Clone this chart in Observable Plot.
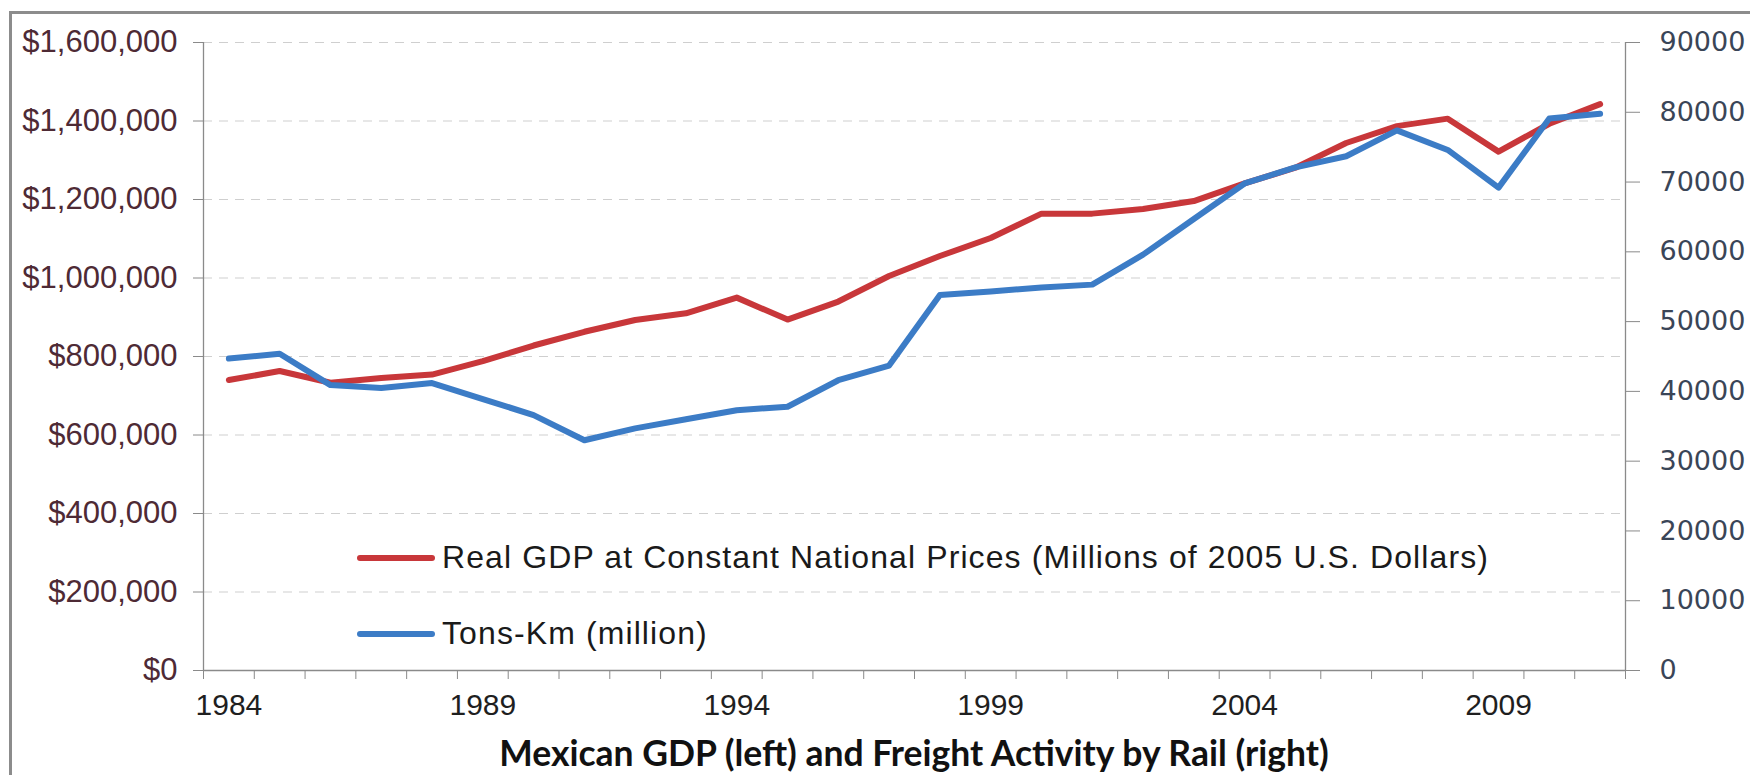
<!DOCTYPE html>
<html>
<head>
<meta charset="utf-8">
<script src="https://cdn.jsdelivr.net/npm/d3@7"></script>
<script src="https://cdn.jsdelivr.net/npm/@observablehq/plot@0.6"></script>
<style>
html, body { margin: 0; padding: 0; background: #fff; width: 1750px; height: 775px; overflow: hidden; }
#frame { position: absolute; left: 9px; top: 11px; width: 1800px; height: 820px; border: 3px solid #8c8c8c; box-sizing: border-box; }
#chart { position: absolute; left: 0; top: 0; }
#title { position: absolute; left: 203px; width: 1422px; top: 731px; text-align: center; font: bold 35.5px Lato, "Open Sans", sans-serif; color: #111; white-space: nowrap; }
.leg { position: absolute; left: 357px; font: 32px "Liberation Sans", Arial, sans-serif; letter-spacing: 1.1px; color: #1a1a1a; white-space: nowrap; display: flex; align-items: center; }
.leg .sw { display: inline-block; width: 78px; height: 6px; border-radius: 3px; margin-right: 7px; }
</style>
</head>
<body>
<div id="frame"></div>
<div id="chart"></div>
<div id="legend"></div>
<div id="title">Mexican GDP (left) and Freight Activity by Rail (right)</div>
<script>
// ---- data ----
const years = [1984,1985,1986,1987,1988,1989,1990,1991,1992,1993,1994,1995,1996,1997,1998,1999,2000,2001,2002,2003,2004,2005,2006,2007,2008,2009,2010,2011];
const gdp = [740000,763000,733000,745000,754000,788000,828000,863000,893000,910000,950000,894000,940000,1005000,1056000,1102000,1164000,1164000,1176000,1196000,1241000,1281000,1344000,1387000,1406000,1322000,1393000,1443000];
const tonKm = [44700,45400,40900,40500,41200,38900,36600,33000,34700,36000,37300,37800,41600,43700,53800,54300,54900,55300,59600,64700,69800,72100,73700,77400,74600,69200,79100,79800];
const leftTicks = [0,200000,400000,600000,800000,1000000,1200000,1400000,1600000];
const rightTicks = [0,10000,20000,30000,40000,50000,60000,70000,80000,90000];
const yearLabels = [1984,1989,1994,1999,2004,2009];
const seriesNames = ["Real GDP at Constant National Prices (Millions of 2005 U.S. Dollars)", "Tons-Km (million)"];
const seriesColors = ["#c8373a", "#3c7cc6"];

// ---- derived ----
const leftMax = leftTicks[leftTicks.length - 1];
const rightMax = rightTicks[rightTicks.length - 1];
const k = leftMax / rightMax;
const gdpData = years.map((y, i) => ({year: y, v: gdp[i]}));
const tkData = years.map((y, i) => ({year: y, v: tonKm[i] * k}));
const x0 = years[0] - 0.5, x1 = years[years.length - 1] + 0.5;
const boundaries = d3.range(x0, x1 + 0.01, 1);
const fmtDollar = d => "$" + d3.format(",")(d);

const chart = Plot.plot({
  width: 1750,
  height: 720,
  marginTop: 42,
  marginBottom: 50,
  marginLeft: 203,
  marginRight: 125,
  x: {type: "linear", domain: [x0, x1]},
  y: {domain: [0, leftMax]},
  style: {fontFamily: "'Liberation Sans', Arial, sans-serif", fontSize: "30px", background: "transparent", overflow: "visible"},
  marks: [
    Plot.gridY(leftTicks.slice(1), {stroke: "#cfcfcf", strokeOpacity: 1, strokeDasharray: "9,7"}),
    Plot.axisY(leftTicks, {anchor: "left", tickFormat: fmtDollar, tickSize: 10, tickPadding: 16, stroke: "#8a8a8a", fill: "#4e2a35", fontSize: 31, label: null}),
    Plot.axisY(rightTicks.map(v => v * k), {anchor: "right", tickFormat: d => String(Math.round(d / k)), tickSize: 14, tickPadding: 20, stroke: "#8a8a8a", fill: "#3a4557", fontFamily: "'DejaVu Sans', sans-serif", fontSize: 27, label: null}),
    Plot.axisX(boundaries, {anchor: "bottom", tickFormat: () => "", tickSize: 9, stroke: "#8a8a8a", label: null}),
    Plot.axisX(yearLabels, {anchor: "bottom", tickFormat: d => String(d), tickSize: 0, tickPadding: 23, fill: "#1f1f1f", fontSize: 30, label: null}),
    Plot.ruleX([x0, x1], {stroke: "#8a8a8a", strokeWidth: 1.3}),
    Plot.ruleY([0], {stroke: "#8a8a8a", strokeWidth: 1.3}),
    Plot.line(gdpData, {x: "year", y: "v", stroke: seriesColors[0], strokeWidth: 6}),
    Plot.line(tkData, {x: "year", y: "v", stroke: seriesColors[1], strokeWidth: 6})
  ]
});
document.getElementById("chart").appendChild(chart);

const legend = document.getElementById("legend");
const legendTops = [539, 615];
seriesNames.forEach((name, i) => {
  const row = document.createElement("div");
  row.className = "leg";
  row.style.top = legendTops[i] + "px";
  const sw = document.createElement("span");
  sw.className = "sw";
  sw.style.background = seriesColors[i];
  row.appendChild(sw);
  const t = document.createElement("span");
  t.textContent = name;
  row.appendChild(t);
  legend.appendChild(row);
});
</script>
</body>
</html>
